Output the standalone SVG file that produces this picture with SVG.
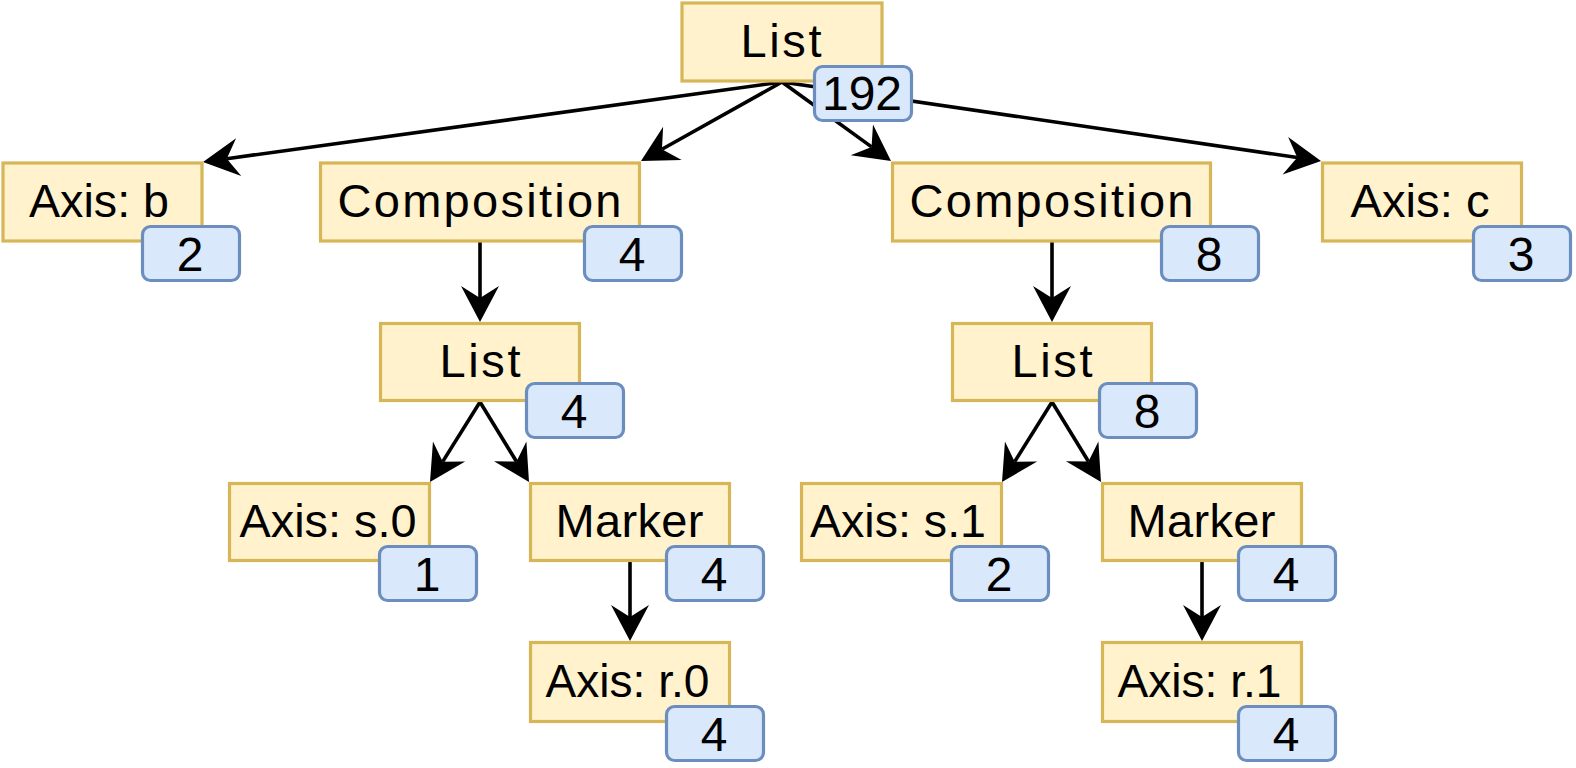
<svg xmlns="http://www.w3.org/2000/svg" width="1576" height="768" viewBox="0 0 1576 768">
<defs>
<style>
.box{fill:#fff2cc;stroke:#d6b656;stroke-width:3.2}
.badge{fill:#dae8fc;stroke:#6c8ebf;stroke-width:3.2}
.lbl{font-family:"Liberation Sans",Arial,sans-serif;font-size:47px;fill:#000;text-anchor:middle}
.num{font-family:"Liberation Sans",Arial,sans-serif;font-size:48px;fill:#000;text-anchor:middle}
.edge{fill:none;stroke:#000;stroke-width:3.6}
</style>
<marker id="arr" markerUnits="userSpaceOnUse" markerWidth="40" markerHeight="40" refX="12" refY="19" orient="auto" overflow="visible">
<path d="M36,19 L0,0 L12,19 L0,38 Z" fill="#000"/>
</marker>
</defs>
<rect width="1576" height="768" fill="#fff"/>
<g id="connectors">
<line class="edge" x1="782" y1="82" x2="226.78" y2="158.71" marker-end="url(#arr)"/>
<line class="edge" x1="782" y1="82" x2="661.94" y2="149.27" marker-end="url(#arr)"/>
<line class="edge" x1="782" y1="82" x2="871.56" y2="146.91" marker-end="url(#arr)"/>
<line class="edge" x1="782" y1="82" x2="1297.25" y2="157.52" marker-end="url(#arr)"/>
<line class="edge" x1="480" y1="242" x2="480" y2="298" marker-end="url(#arr)"/>
<line class="edge" x1="1052" y1="242" x2="1052" y2="298" marker-end="url(#arr)"/>
<line class="edge" x1="480" y1="402" x2="442.72" y2="461.65" marker-end="url(#arr)"/>
<line class="edge" x1="480" y1="402" x2="516.47" y2="461.54" marker-end="url(#arr)"/>
<line class="edge" x1="630" y1="562" x2="630" y2="617" marker-end="url(#arr)"/>
<line class="edge" x1="1052" y1="402" x2="1014.72" y2="461.65" marker-end="url(#arr)"/>
<line class="edge" x1="1052" y1="402" x2="1088.47" y2="461.54" marker-end="url(#arr)"/>
<line class="edge" x1="1202" y1="562" x2="1202" y2="617" marker-end="url(#arr)"/>
</g>
<g id="list-root">
<rect class="box" x="682" y="3" width="200" height="78"/>
<text class="lbl" x="781" y="57" textLength="81" lengthAdjust="spacing">List</text>
<rect class="badge" x="814.5" y="66.5" width="97" height="54" rx="8"/>
<text class="num" x="862" y="110">192</text>
</g>
<g id="axis-b">
<rect class="box" x="3" y="163" width="199" height="78"/>
<text class="lbl" x="99" y="217" textLength="140" lengthAdjust="spacingAndGlyphs">Axis: b</text>
<rect class="badge" x="142.5" y="226.5" width="97" height="54" rx="8"/>
<text class="num" x="190" y="271">2</text>
</g>
<g id="composition-left">
<rect class="box" x="320.5" y="163" width="319" height="78"/>
<text class="lbl" x="479.5" y="217" textLength="284" lengthAdjust="spacing">Composition</text>
<rect class="badge" x="584.5" y="226.5" width="97" height="54" rx="8"/>
<text class="num" x="632" y="271">4</text>
</g>
<g id="composition-right">
<rect class="box" x="892.5" y="163" width="318" height="78"/>
<text class="lbl" x="1051.5" y="217" textLength="284" lengthAdjust="spacing">Composition</text>
<rect class="badge" x="1161.5" y="226.5" width="97" height="54" rx="8"/>
<text class="num" x="1209" y="271">8</text>
</g>
<g id="axis-c">
<rect class="box" x="1322.5" y="163" width="199" height="78"/>
<text class="lbl" x="1420" y="217" textLength="139" lengthAdjust="spacingAndGlyphs">Axis: c</text>
<rect class="badge" x="1473.5" y="226.5" width="97" height="54" rx="8"/>
<text class="num" x="1521" y="271">3</text>
</g>
<g id="list-left">
<rect class="box" x="380.5" y="323.5" width="199" height="77"/>
<text class="lbl" x="480" y="377" textLength="81" lengthAdjust="spacing">List</text>
<rect class="badge" x="526.5" y="383.5" width="97" height="54" rx="8"/>
<text class="num" x="574" y="428">4</text>
</g>
<g id="list-right">
<rect class="box" x="952.5" y="323.5" width="199" height="77"/>
<text class="lbl" x="1052" y="377" textLength="81" lengthAdjust="spacing">List</text>
<rect class="badge" x="1099.5" y="383.5" width="97" height="54" rx="8"/>
<text class="num" x="1147" y="428">8</text>
</g>
<g id="axis-s0">
<rect class="box" x="229.5" y="483.5" width="200" height="77"/>
<text class="lbl" x="328" y="537" textLength="177" lengthAdjust="spacingAndGlyphs">Axis: s.0</text>
<rect class="badge" x="379.5" y="546.5" width="97" height="54" rx="8"/>
<text class="num" x="427" y="591">1</text>
</g>
<g id="marker-left">
<rect class="box" x="530.5" y="483.5" width="199" height="77"/>
<text class="lbl" x="629.5" y="537" textLength="148" lengthAdjust="spacing">Marker</text>
<rect class="badge" x="666.5" y="546.5" width="97" height="54" rx="8"/>
<text class="num" x="714" y="591">4</text>
</g>
<g id="axis-s1">
<rect class="box" x="801.5" y="483.5" width="200" height="77"/>
<text class="lbl" x="898" y="537" textLength="176" lengthAdjust="spacingAndGlyphs">Axis: s.1</text>
<rect class="badge" x="951.5" y="546.5" width="97" height="54" rx="8"/>
<text class="num" x="999" y="591">2</text>
</g>
<g id="marker-right">
<rect class="box" x="1102.5" y="483.5" width="199" height="77"/>
<text class="lbl" x="1201.5" y="537" textLength="148" lengthAdjust="spacing">Marker</text>
<rect class="badge" x="1238.5" y="546.5" width="97" height="54" rx="8"/>
<text class="num" x="1286" y="591">4</text>
</g>
<g id="axis-r0">
<rect class="box" x="530.5" y="642.5" width="199" height="79"/>
<text class="lbl" x="627.5" y="697" textLength="164" lengthAdjust="spacingAndGlyphs">Axis: r.0</text>
<rect class="badge" x="666.5" y="706.5" width="97" height="54" rx="8"/>
<text class="num" x="714" y="751">4</text>
</g>
<g id="axis-r1">
<rect class="box" x="1102.5" y="642.5" width="199" height="79"/>
<text class="lbl" x="1199.5" y="697" textLength="164" lengthAdjust="spacingAndGlyphs">Axis: r.1</text>
<rect class="badge" x="1238.5" y="706.5" width="97" height="54" rx="8"/>
<text class="num" x="1286" y="751">4</text>
</g>
</svg>
